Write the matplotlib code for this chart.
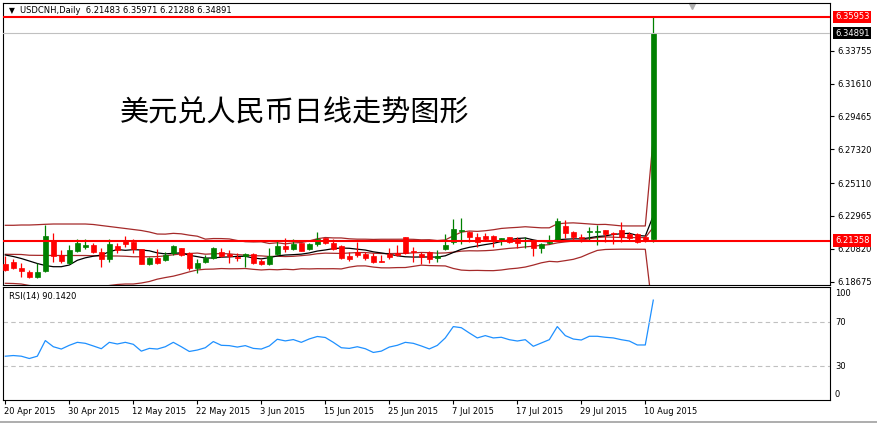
import matplotlib
matplotlib.use('Agg')
import matplotlib.pyplot as plt
import matplotlib.transforms as mtrans
from matplotlib.lines import Line2D
import numpy as np
import pandas as pd

plt.rcParams['font.family'] = ['DejaVu Sans', 'Noto Sans CJK SC']

# ---------------- data ----------------
symbol_title = "USDCNH,Daily  6.21483 6.35971 6.21288 6.34891"
chart_text = "美元兑人民币日线走势图形"
rsi_title = "RSI(14) 90.1420"

opens = [6.1981, 6.1994, 6.1959, 6.1929, 6.1900, 6.1940, 6.2135, 6.2042, 6.1987, 6.2070,
         6.2096, 6.2107, 6.2059, 6.2016, 6.2101, 6.2135, 6.2129, 6.2079, 6.1983, 6.2024,
         6.2009, 6.2053, 6.2085, 6.2053, 6.1959, 6.1998, 6.2020, 6.2064, 6.2048, 6.2029,
         6.2035, 6.2046, 6.2005, 6.1981, 6.2048, 6.2101, 6.2081, 6.2118, 6.2081, 6.2111,
         6.2151, 6.2118, 6.2103, 6.2037, 6.2059, 6.2046, 6.2037, 6.2005, 6.2046, 6.2053,
         6.2157, 6.2068, 6.2048, 6.2059, 6.2024, 6.2081, 6.2129, 6.2198, 6.2194, 6.2157,
         6.2168, 6.2166, 6.2133, 6.2157, 6.2146, 6.2133, 6.2133, 6.2085, 6.2118, 6.2140,
         6.2231, 6.2190, 6.2161, 6.2194, 6.2194, 6.2205, 6.2183, 6.2205, 6.2179, 6.2177,
         6.2161, 6.21483]
highs = [6.2037, 6.2013, 6.1987, 6.1944, 6.1987, 6.2238, 6.2183, 6.2074, 6.2107, 6.2144,
         6.2146, 6.2122, 6.2085, 6.2144, 6.2118, 6.2168, 6.2144, 6.2081, 6.2031, 6.2079,
         6.2064, 6.2107, 6.2090, 6.2059, 6.2013, 6.2042, 6.2092, 6.2085, 6.2074, 6.2053,
         6.2053, 6.2053, 6.2013, 6.2090, 6.2140, 6.2151, 6.2144, 6.2122, 6.2122, 6.2192,
         6.2153, 6.2144, 6.2107, 6.2064, 6.2129, 6.2064, 6.2053, 6.2042, 6.2090, 6.2107,
         6.2161, 6.2096, 6.2064, 6.2068, 6.2074, 6.2177, 6.2277, 6.2281, 6.2198, 6.2183,
         6.2183, 6.2172, 6.2155, 6.2161, 6.2157, 6.2157, 6.2140, 6.2118, 6.2172, 6.2281,
         6.2270, 6.2198, 6.2177, 6.2227, 6.2238, 6.2207, 6.2190, 6.2259, 6.2190, 6.2183,
         6.2172, 6.35971]
lows = [6.1940, 6.1950, 6.1900, 6.1889, 6.1889, 6.1933, 6.1998, 6.1992, 6.1981, 6.2064,
        6.2083, 6.2053, 6.1966, 6.1998, 6.2053, 6.2096, 6.2053, 6.1981, 6.1976, 6.1983,
        6.2005, 6.2042, 6.2035, 6.1944, 6.1926, 6.1992, 6.2013, 6.2031, 6.1992, 6.2005,
        6.1966, 6.1981, 6.1976, 6.1976, 6.2044, 6.2064, 6.2074, 6.2068, 6.2074, 6.2101,
        6.2111, 6.2074, 6.2016, 6.2003, 6.2031, 6.2009, 6.1992, 6.1994, 6.2016, 6.2037,
        6.2046, 6.1998, 6.1981, 6.1987, 6.1998, 6.2074, 6.2111, 6.2111, 6.2124, 6.2096,
        6.2133, 6.2092, 6.2107, 6.2118, 6.2085, 6.2085, 6.2037, 6.2057, 6.2111, 6.2133,
        6.2155, 6.2133, 6.2129, 6.2140, 6.2107, 6.2124, 6.2114, 6.2124, 6.2133, 6.2118,
        6.2124, 6.21288]
closes = [6.1944, 6.1959, 6.1940, 6.1896, 6.1929, 6.2166, 6.2037, 6.2005, 6.2074, 6.2122,
          6.2107, 6.2064, 6.2013, 6.2114, 6.2074, 6.2114, 6.2081, 6.1983, 6.2020, 6.1987,
          6.2042, 6.2101, 6.2042, 6.1955, 6.1987, 6.2020, 6.2087, 6.2037, 6.2035, 6.2022,
          6.2046, 6.1992, 6.1983, 6.2035, 6.2101, 6.2079, 6.2111, 6.2070, 6.2114, 6.2144,
          6.2118, 6.2079, 6.2024, 6.2016, 6.2042, 6.2024, 6.1994, 6.1998, 6.2031, 6.2042,
          6.2053, 6.2059, 6.2031, 6.2013, 6.2037, 6.2107, 6.2211, 6.2205, 6.2161, 6.2129,
          6.2146, 6.2140, 6.2151, 6.2129, 6.2118, 6.2140, 6.2085, 6.2111, 6.2129, 6.2264,
          6.2183, 6.2161, 6.2151, 6.2201, 6.2201, 6.2179, 6.2177, 6.2161, 6.2155, 6.2129,
          6.2140, 6.34891]

# indicator values for the first bars (history before the chart)
bb_upper_start = [6.22357, 6.22357, 6.22376, 6.22376, 6.22396, 6.22422, 6.22441, 6.22441,
                  6.22441, 6.22441, 6.22441, 6.22409, 6.22343, 6.22278, 6.22213, 6.22148,
                  6.22082, 6.22017, 6.21919]
bb_middle_start = [6.20464, 6.20458, 6.20451, 6.20402, 6.20395, 6.20392, 6.20385, 6.20385,
                   6.20385, 6.20385, 6.20385, 6.20369, 6.20353, 6.20353, 6.20353, 6.20337,
                   6.20304, 6.20304, 6.20304]
bb_lower_start = [6.18571, 6.18558, 6.18525, 6.18427, 6.18394, 6.18362, 6.18329, 6.18329,
                  6.18329, 6.18329, 6.18329, 6.18329, 6.18362, 6.18427, 6.18492, 6.18525,
                  6.18525, 6.18590, 6.18688]
sma10_start = [6.20418, 6.20320, 6.20189, 6.20026, 6.19863, 6.19732, 6.19654, 6.19654, 6.19765]

rsi = [39.2, 39.8, 39.2, 37.1, 39.2, 53.4, 47.8, 45.7, 49.1, 51.8,
       50.9, 48.5, 46.0, 51.8, 50.3, 51.8, 50.0, 43.8, 46.3, 45.7,
       47.8, 51.8, 47.8, 43.5, 44.8, 46.9, 52.5, 49.1, 48.8, 47.5,
       48.8, 46.3, 45.7, 48.5, 54.6, 53.1, 54.3, 51.8, 54.9, 57.1,
       56.2, 51.8, 46.9, 46.3, 47.8, 46.0, 42.6, 43.8, 47.5, 49.1,
       51.8, 50.9, 48.5, 45.8, 49.0, 55.8, 66.1, 65.1, 60.3, 55.8,
       57.9, 55.8, 56.4, 54.2, 53.0, 54.2, 48.2, 51.2, 54.2, 66.1,
       57.9, 54.8, 53.9, 57.3, 57.3, 56.4, 55.8, 54.2, 53.0, 49.4,
       49.4, 90.142]
rsi_levels = [30, 70]
rsi_tick_values = [100, 70, 30, 0]
rsi_tick_labels = ["100", "70", "30", "0"]

date_labels = ["20 Apr 2015", "30 Apr 2015", "12 May 2015", "22 May 2015", "3 Jun 2015",
               "15 Jun 2015", "25 Jun 2015", "7 Jul 2015", "17 Jul 2015", "29 Jul 2015",
               "10 Aug 2015"]
date_label_bars = [0, 8, 16, 24, 32, 40, 48, 56, 64, 72, 80]

price_ticks = [6.18675, 6.20820, 6.22965, 6.25110, 6.27320, 6.29465, 6.31610, 6.33755]
red_levels = [6.35953, 6.21358]
bid_price = 6.34891

# ---------------- indicators ----------------
s = pd.Series(closes)
mid = s.rolling(20).mean()
sd = s.rolling(20).std(ddof=0)
upper = (mid + 2 * sd).to_numpy()
lower = (mid - 2 * sd).to_numpy()
mid = mid.to_numpy()
upper[:19] = bb_upper_start
mid[:19] = bb_middle_start
lower[:19] = bb_lower_start
sma10 = s.rolling(10).mean().to_numpy()
sma10[:9] = sma10_start

# ---------------- figure ----------------
W, H = 877, 424
fig = plt.figure(figsize=(W / 100, H / 100), dpi=100)
fig.patch.set_facecolor('white')


def rect(l, t, r, b):
    return [l / W, 1 - b / H, (r - l) / W, (b - t) / H]


ax = fig.add_axes(rect(3, 3.3, 830, 285))
axr = fig.add_axes(rect(3, 287.3, 830, 400))

n = len(closes)
x = np.arange(n)
o = np.array(opens)
c = np.array(closes)
hi = np.array(highs)
lo = np.array(lows)
GREEN = '#008000'
RED = '#FF0000'
BROWN = '#A52A2A'
cols = np.where(c >= o, GREEN, RED)

# indicator lines
ax.plot(x, upper, color=BROWN, lw=0.9, zorder=2)
ax.plot(x, mid, color=BROWN, lw=0.9, zorder=2)
ax.plot(x, lower, color=BROWN, lw=0.9, zorder=2)
ax.plot(x, sma10, color='black', lw=0.9, zorder=2)

# candles
ax.vlines(x, lo, hi, colors=cols, lw=0.9, zorder=3)
body_bottom = np.minimum(o, c)
body_h = np.maximum(np.abs(c - o), 0.0005)
ax.bar(x, body_h, bottom=body_bottom, width=0.6, color=cols, edgecolor=cols,
       lw=0.5, zorder=4)

# horizontal lines
ax.axhline(bid_price, color='#C0C0C0', lw=0.8, zorder=5)
for lvl in red_levels:
    ax.axhline(lvl, color=RED, lw=1.5, zorder=6)

ax.set_xlim(-0.29, 103.09)
ax.set_ylim(6.18460, 6.36847)
ax.yaxis.tick_right()
ax.set_yticks(price_ticks)
ax.set_yticklabels([f"{v:.5f}" for v in price_ticks])
ax.tick_params(axis='y', length=3, width=0.8, pad=2, labelsize=6, colors='black')
ax.tick_params(axis='x', bottom=False, labelbottom=False)
for sp in ax.spines.values():
    sp.set_color('black')
    sp.set_linewidth(0.8)

bt = mtrans.blended_transform_factory(ax.transAxes, ax.transData)
for lvl in red_levels:
    ax.text(1.006, lvl, f"{lvl:.5f}", transform=bt, ha='left', va='center',
            fontsize=6, color='white', zorder=10, clip_on=False,
            bbox=dict(facecolor=RED, edgecolor='none', pad=1.2))
ax.text(1.006, bid_price, f"{bid_price:.5f}", transform=bt, ha='left', va='center',
        fontsize=6, color='white', zorder=10, clip_on=False,
        bbox=dict(facecolor='black', edgecolor='none', pad=1.2))

ax.text(0.0075, 0.9727, "\u25bc", transform=ax.transAxes, fontsize=5.5,
        ha='left', va='center', color='black')
ax.text(0.0206, 0.9727, symbol_title, transform=ax.transAxes, fontsize=6,
        ha='left', va='center', color='black')
ax.plot([0.833], [0.99], marker='v', color='#B0B0B0', markersize=4,
        transform=ax.transAxes, clip_on=False)

ax.text(0.1415, 0.6106, chart_text, transform=ax.transAxes, fontsize=21,
        family=['Noto Sans CJK SC'], weight='light', ha='left', va='center',
        color='black')

# RSI panel
axr.plot(x, rsi, color='#1E90FF', lw=0.9)
for lvl in rsi_levels:
    axr.axhline(lvl, color='#C0C0C0', lw=0.8, ls=(0, (4, 3)))
axr.set_xlim(-0.29, 103.09)
axr.set_ylim(-0.6, 101.8)
axr.set_yticks([])
axr.set_xticks(date_label_bars)
axr.set_xticklabels(date_labels, ha='left', fontsize=6)
axr.tick_params(axis='x', length=3, width=0.8, pad=2)
for lab in axr.get_xticklabels():
    lab.set_transform(lab.get_transform() + mtrans.ScaledTranslation(-1.5 / 100, 0, fig.dpi_scale_trans))
for sp in axr.spines.values():
    sp.set_color('black')
    sp.set_linewidth(0.8)
btr = mtrans.blended_transform_factory(axr.transAxes, axr.transData)
for v, lab in zip(rsi_tick_values, rsi_tick_labels):
    va = 'top' if v == 100 else ('bottom' if v == 0 else 'center')
    axr.text(1.006, v, lab, transform=btr, ha='left', va=va, fontsize=6,
             clip_on=False)
axr.text(0.0073, 0.914, rsi_title, transform=axr.transAxes, fontsize=6,
         ha='left', va='center')

fig.add_artist(Line2D([0, 1], [1 - 421.5 / H, 1 - 421.5 / H], color='#A0A0A0', lw=1.2,
                      transform=fig.transFigure))

fig.savefig('out.png', dpi=100, facecolor='white')
